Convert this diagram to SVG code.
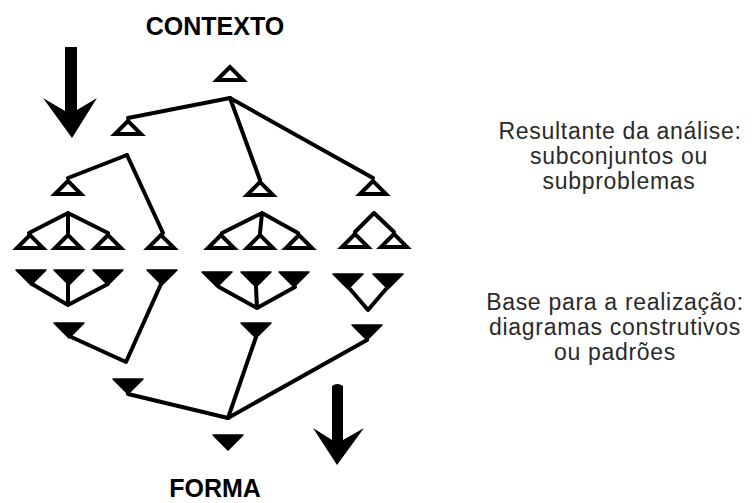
<svg xmlns="http://www.w3.org/2000/svg" width="755" height="503" viewBox="0 0 755 503">
<defs>
<style>
.ln{stroke:#000;stroke-width:4;fill:none;stroke-linecap:round;stroke-linejoin:round}
.tri{stroke:#000;stroke-width:4;fill:#fff;stroke-linejoin:miter;stroke-miterlimit:6}
.inv{stroke:#000;stroke-width:1.5;fill:#000;stroke-linejoin:round}
.arrow{fill:#000}
.title{font-family:"Liberation Sans",Arial,sans-serif;font-weight:bold;font-size:25px;fill:#000;text-anchor:middle}
.note{font-family:"Liberation Sans",Arial,sans-serif;font-size:23px;letter-spacing:0.7px;fill:#2a2a2a;text-anchor:middle}
</style>
<path id="up" d="M0,3 L-13,16 L13,16 Z"/>
<path id="dn" d="M-15,0 L15,0 L0,15 Z"/>
</defs>
<rect width="755" height="503" fill="#fff"/>

<g id="connectors" class="ln">
<path d="M230,98 L128,118"/>
<path d="M230,98 L260,180"/>
<path d="M230,98 L373,178"/>
<path d="M127,155 L68,178"/>
<path d="M127,155 L163,233"/>
<path d="M68,213 L29,233 M68,213 L68,233 M68,213 L108,233"/>
<path d="M262,213 L222,233 M262,213 L260,233 M262,213 L298,233"/>
<path d="M374,213 L355,232 M374,213 L394,232"/>
<path d="M32,284 L68,305 M68,284 L68,305 M108,284 L68,305"/>
<path d="M219,287 L257,308 M256,287 L257,308 M295,287 L257,308"/>
<path d="M350,289 L368,310 L386,289"/>
<path d="M161,284 L126,362 L69,336"/>
<path d="M256,337 L228,418"/>
<path d="M367,340 L228,418"/>
<path d="M128,394 L228,418"/>
</g>

<g id="n-top"><use href="#up" class="tri" transform="translate(230,64)"/></g>
<g id="n-l2"><use href="#up" class="tri" transform="translate(128,118)"/></g>
<g id="n-l3a"><use href="#up" class="tri" transform="translate(68,178)"/></g>
<g id="n-l3b"><use href="#up" class="tri" transform="translate(260,179)"/></g>
<g id="n-l3c"><use href="#up" class="tri" transform="translate(373,178)"/></g>

<g id="n-l4a1"><use href="#up" class="tri" transform="translate(30,232)"/></g>
<g id="n-l4a2"><use href="#up" class="tri" transform="translate(68,232)"/></g>
<g id="n-l4a3"><use href="#up" class="tri" transform="translate(108,232)"/></g>
<g id="n-l4b"><use href="#up" class="tri" transform="translate(161,232)"/></g>
<g id="n-l4c1"><use href="#up" class="tri" transform="translate(221,232)"/></g>
<g id="n-l4c2"><use href="#up" class="tri" transform="translate(260,232)"/></g>
<g id="n-l4c3"><use href="#up" class="tri" transform="translate(299,232)"/></g>
<g id="n-l4d1"><use href="#up" class="tri" transform="translate(355,231)"/></g>
<g id="n-l4d2"><use href="#up" class="tri" transform="translate(394,231)"/></g>

<g id="n-r5a1"><use href="#dn" class="inv" transform="translate(31,270)"/></g>
<g id="n-r5a2"><use href="#dn" class="inv" transform="translate(69,270)"/></g>
<g id="n-r5a3"><use href="#dn" class="inv" transform="translate(108,270)"/></g>
<g id="n-r5b"><use href="#dn" class="inv" transform="translate(162,270)"/></g>
<g id="n-r5c1"><use href="#dn" class="inv" transform="translate(217,272)"/></g>
<g id="n-r5c2"><use href="#dn" class="inv" transform="translate(256,272)"/></g>
<g id="n-r5c3"><use href="#dn" class="inv" transform="translate(294,272)"/></g>
<g id="n-r5d1"><use href="#dn" class="inv" transform="translate(348,274)"/></g>
<g id="n-r5d2"><use href="#dn" class="inv" transform="translate(388,274)"/></g>

<g id="n-r6a"><use href="#dn" class="inv" transform="translate(69,323)"/></g>
<g id="n-r6b"><use href="#dn" class="inv" transform="translate(256,323)"/></g>
<g id="n-r6c"><use href="#dn" class="inv" transform="translate(367,325)"/></g>
<g id="n-r7"><use href="#dn" class="inv" transform="translate(128,379)"/></g>
<g id="n-r8"><use href="#dn" class="inv" transform="translate(228,435)"/></g>

<g id="arrow-top"><path class="arrow" d="M65,47 L77,47 L77,110 L97,98 L72,138 L43,98 L65,111 Z"/></g>
<g id="arrow-bottom"><path class="arrow" d="M332,386 Q337,382 343,386 L343,440 L364,428 L337,465 L313,428 L332,440 Z"/></g>

<g id="labels">
<text class="title" x="215" y="35">CONTEXTO</text>
<text class="title" x="215" y="497">FORMA</text>
<text class="note" x="620" y="139">Resultante da análise:</text>
<text class="note" x="619" y="164">subconjuntos ou</text>
<text class="note" x="619" y="189">subproblemas</text>
<text class="note" x="615" y="310">Base para a realização:</text>
<text class="note" x="615" y="335">diagramas construtivos</text>
<text class="note" x="615" y="360">ou padrões</text>
</g>
</svg>
